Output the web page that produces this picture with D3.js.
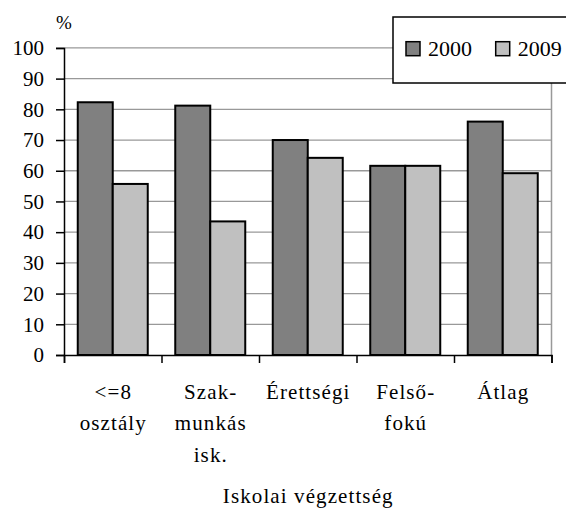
<!DOCTYPE html>
<html>
<head>
<meta charset="utf-8">
<script src="https://cdn.jsdelivr.net/npm/d3@7"></script>
<style>
  body { margin: 0; background: #fff; }
  svg text, svg tspan { font-family: "Liberation Serif", "Times New Roman", serif !important; fill: #000; }
</style>
</head>
<body>
<div id="chart_div"></div>
<script>
// data
var categories = ["<=8 osztály", "Szakmunkás isk.", "Érettségi", "Felsőfokú", "Átlag"];
var cat_lines = [["<=8", "osztály"], ["Szak-", "munkás", "isk."], ["Érettségi"], ["Felső-", "fokú"], ["Átlag"]];
var series = ["2000", "2009"];
var vals_2000 = [82.3, 81.2, 70.0, 61.6, 76.0];
var vals_2009 = [55.7, 43.5, 64.2, 61.6, 59.2];
var y_ticks = [0, 10, 20, 30, 40, 50, 60, 70, 80, 90, 100];

var w = 566, h = 508;
var left = 64, right = 551.5, top_y = 47.9, bottom_y = 355;
var cols = {"2000": "#808080", "2009": "#c0c0c0"};
var fs = 21;
var serif = "Liberation Serif";

var the_svg = d3.select("#chart_div")
  .append("svg")
    .attr("width", w)
    .attr("height", h)
    .attr("font-family", serif);

var x0 = d3.scaleBand().domain(categories).range([left, right]);
var x1 = d3.scaleBand().domain(series).range([0, x0.bandwidth()]).paddingOuter(0.393);
var y = d3.scaleLinear().domain([0, 100]).range([bottom_y, top_y]);

// gridlines
the_svg.append("g")
  .selectAll("line")
  .data(y_ticks.slice(1))
  .enter().append("line")
    .attr("x1", left).attr("x2", right)
    .attr("y1", function(d) { return y(d); })
    .attr("y2", function(d) { return y(d); })
    .attr("stroke", "#999")
    .attr("stroke-width", 1.3);

// right border of plot area
the_svg.append("line")
  .attr("x1", right).attr("x2", right)
  .attr("y1", y(100)).attr("y2", y(0))
  .attr("stroke", "#999")
  .attr("stroke-width", 1.5);

// bars
var rows = categories.map(function(c, i) {
  return {cat: c, vals: [{s: "2000", v: vals_2000[i]}, {s: "2009", v: vals_2009[i]}]};
});

the_svg.append("g")
  .selectAll("g")
  .data(rows)
  .enter().append("g")
    .attr("transform", function(d) { return "translate(" + x0(d.cat) + ",0)"; })
  .selectAll("rect")
  .data(function(d) { return d.vals; })
  .enter().append("rect")
    .attr("x", function(d) { return x1(d.s); })
    .attr("y", function(d) { return y(d.v); })
    .attr("width", x1.bandwidth())
    .attr("height", function(d) { return y(0) - y(d.v); })
    .attr("fill", function(d) { return cols[d.s]; })
    .attr("stroke", "#000")
    .attr("stroke-width", 2);

// y axis
var y_axis = d3.axisLeft(y).tickValues(y_ticks).tickSize(8).tickPadding(12);
var yg = the_svg.append("g")
  .attr("transform", "translate(" + left + ",0)")
  .call(y_axis)
  .attr("font-family", serif)
  .attr("font-size", fs);
yg.select(".domain").attr("stroke", "#000").attr("stroke-width", 1.5);
yg.selectAll(".tick line").attr("stroke", "#000").attr("stroke-width", 1.5);
yg.selectAll(".tick text")
  .attr("dy", "0.32em");

// x axis, ticks between categories
var x_edges = d3.scaleLinear().domain([0, categories.length]).range([left, right]);
var xg = the_svg.append("g")
  .attr("transform", "translate(0," + bottom_y + ")")
  .call(d3.axisBottom(x_edges).ticks(categories.length).tickSize(8).tickFormat(""));
xg.select(".domain").attr("stroke", "#000").attr("stroke-width", 1.5);
xg.selectAll(".tick line").attr("stroke", "#000").attr("stroke-width", 1.5);

// category labels (the original is a bit letter-spaced)
var lab = the_svg.append("g")
  .attr("font-family", serif)
  .selectAll("text")
  .data(cat_lines)
  .enter().append("text")
    .attr("text-anchor", "middle")
    .attr("font-size", fs)
    .attr("letter-spacing", 1.1)
    .attr("transform", function(d, i) { return "translate(" + (x0(categories[i]) + x0.bandwidth() / 2 + 0.5) + ",399)"; });
lab.selectAll("tspan")
  .data(function(d) { return d; })
  .enter().append("tspan")
    .attr("x", 0)
    .attr("y", function(d, i) { return i * 31.3; })
    .text(function(d) { return d; });

// axis titles
the_svg.append("text")
  .attr("x", left)
  .attr("y", 28.5)
  .attr("text-anchor", "middle")
  .attr("font-size", 19)
  .text("%");

the_svg.append("text")
  .attr("x", (left + right) / 2 + 0.5)
  .attr("y", 503)
  .attr("text-anchor", "middle")
  .attr("font-size", fs)
  .attr("letter-spacing", 1.1)
  .text("Iskolai végzettség");

// legend
var leg = the_svg.append("g");
leg.append("rect")
  .attr("x", 393).attr("y", 17)
  .attr("width", 190).attr("height", 66)
  .attr("fill", "#fff")
  .attr("stroke", "#000")
  .attr("stroke-width", 1.5);

var leg_x = [406, 495.7];
series.forEach(function(s, i) {
  leg.append("rect")
    .attr("x", leg_x[i]).attr("y", 41.7)
    .attr("width", 14).attr("height", 14)
    .attr("fill", cols[s])
    .attr("stroke", "#000")
    .attr("stroke-width", 1.5);
  leg.append("text")
    .attr("x", leg_x[i] + 22)
    .attr("y", 55.7)
    .attr("font-size", fs + 1)
    .text(s);
});
</script>
</body>
</html>
